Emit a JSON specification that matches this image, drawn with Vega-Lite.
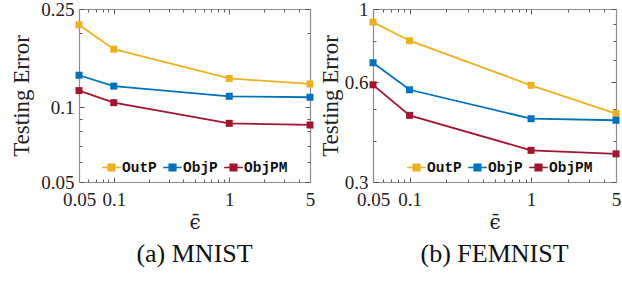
{
  "$schema": "https://vega.github.io/schema/vega-lite/v6.json",
  "padding": {"left": 10, "top": 0, "right": 0, "bottom": 0},
  "background": "white",
  "spacing": 4,
  "config": {
    "view": {"stroke": null},
    "font": "Liberation Serif",
    "axis": {
      "labelFont": "Liberation Serif", "labelFontSize": 19, "labelColor": "#222",
      "titleFont": "Liberation Serif", "titleFontSize": 23, "titleFontWeight": "normal", "titleColor": "#222",
      "domainColor": "#8c8c8c", "domainWidth": 1.2, "tickColor": "#555", "tickWidth": 1,
      "grid": false, "labelOverlap": false, "labelFlush": false
    },
    "legend": {
      "orient": "none", "direction": "horizontal", "title": null,
      "labelFont": "Liberation Mono", "labelFontSize": 14.5, "labelFontWeight": "bold", "labelColor": "#111",
      "symbolType": "M-1,0L1,0M-0.35,-0.35L0.35,-0.35L0.35,0.35L-0.35,0.35Z",
      "symbolSize": 350, "symbolStrokeWidth": 1.6, "labelOffset": 0, "columnPadding": 2
    }
  },
  "datasets": {
    "mnist": [
      {"method": "OutP", "eps": 0.05, "err": 0.216},
      {"method": "OutP", "eps": 0.1, "err": 0.172},
      {"method": "OutP", "eps": 1, "err": 0.131},
      {"method": "OutP", "eps": 5, "err": 0.1245},
      {"method": "ObjP", "eps": 0.05, "err": 0.135},
      {"method": "ObjP", "eps": 0.1, "err": 0.122},
      {"method": "ObjP", "eps": 1, "err": 0.111},
      {"method": "ObjP", "eps": 5, "err": 0.110},
      {"method": "ObjPM", "eps": 0.05, "err": 0.117},
      {"method": "ObjPM", "eps": 0.1, "err": 0.1046},
      {"method": "ObjPM", "eps": 1, "err": 0.0863},
      {"method": "ObjPM", "eps": 5, "err": 0.085}
    ],
    "femnist": [
      {"method": "OutP", "eps": 0.05, "err": 0.913},
      {"method": "OutP", "eps": 0.1, "err": 0.802},
      {"method": "OutP", "eps": 1, "err": 0.588},
      {"method": "OutP", "eps": 5, "err": 0.483},
      {"method": "ObjP", "eps": 0.05, "err": 0.688},
      {"method": "ObjP", "eps": 0.1, "err": 0.570},
      {"method": "ObjP", "eps": 1, "err": 0.466},
      {"method": "ObjP", "eps": 5, "err": 0.461},
      {"method": "ObjPM", "eps": 0.05, "err": 0.590},
      {"method": "ObjPM", "eps": 0.1, "err": 0.477},
      {"method": "ObjPM", "eps": 1, "err": 0.374},
      {"method": "ObjPM", "eps": 5, "err": 0.365}
    ]
  },
  "hconcat": [
    {
      "width": 231, "height": 173,
      "data": {"name": "mnist"},
      "title": {"text": "(a) MNIST", "orient": "bottom", "font": "Liberation Serif", "fontSize": 26, "fontWeight": "normal", "color": "#111", "offset": 9},
      "layer": [
        {
          "mark": {"type": "line", "strokeWidth": 1.8, "point": {"shape": "square", "filled": true, "size": 49, "opacity": 1}},
          "encoding": {
            "x": {"field": "eps", "type": "quantitative", "scale": {"type": "log", "domain": [0.05, 5]},
              "axis": {"orient": "bottom", "title": "ϵ̄", "titleFont": "DejaVu Serif", "titleFontSize": 20, "titlePadding": 1,
                "values": [0.05, 0.06, 0.07, 0.08, 0.09, 0.1, 0.2, 0.3, 0.4, 0.5, 0.6, 0.7, 0.8, 0.9, 1, 2, 3, 4, 5],
                "labelExpr": "indexof([0.05, 0.1, 1, 5], datum.value) >= 0 ? format(datum.value, '~g') : ''",
                "tickSize": {"condition": {"test": "indexof([0.05, 0.1, 1, 5], datum.value) >= 0", "value": -5}, "value": -3},
                "labelPadding": 13}},
            "y": {"field": "err", "type": "quantitative", "scale": {"type": "log", "domain": [0.05, 0.25]},
              "axis": {"orient": "left", "title": "Testing Error", "titlePadding": 7,
                "values": [0.05, 0.06, 0.07, 0.08, 0.09, 0.1, 0.2, 0.25],
                "labelExpr": "indexof([0.05, 0.1, 0.25], datum.value) >= 0 ? format(datum.value, '~g') : ''",
                "tickSize": {"condition": {"test": "indexof([0.05, 0.1, 0.25], datum.value) >= 0", "value": -5}, "value": -3},
                "labelPadding": 10}},
            "color": {"field": "method", "type": "nominal",
              "scale": {"domain": ["OutP", "ObjP", "ObjPM"], "range": ["#EDB120", "#0072BD", "#A2142F"]},
              "legend": {"legendX": 22, "legendY": 148,
                "encode": {"symbols": {"update": {"fill": {"scale": "color", "field": "value"}, "stroke": {"scale": "color", "field": "value"}, "opacity": {"value": 1}}}}}}
          }
        },
        {
          "mark": {"type": "point", "opacity": 0},
          "encoding": {
            "x": {"field": "eps", "type": "quantitative", "scale": {"type": "log", "domain": [0.05, 5]},
              "axis": {"orient": "top", "title": null, "labels": false,
                "values": [0.05, 0.06, 0.07, 0.08, 0.09, 0.1, 0.2, 0.3, 0.4, 0.5, 0.6, 0.7, 0.8, 0.9, 1, 2, 3, 4, 5],
                "tickSize": {"condition": {"test": "indexof([0.05, 0.1, 1, 5], datum.value) >= 0", "value": -5}, "value": -3}}},
            "y": {"field": "err", "type": "quantitative", "scale": {"type": "log", "domain": [0.05, 0.25]},
              "axis": {"orient": "right", "title": null, "labels": false, "labelPadding": 0,
                "values": [0.05, 0.06, 0.07, 0.08, 0.09, 0.1, 0.2, 0.25],
                "tickSize": {"condition": {"test": "indexof([0.05, 0.1, 0.25], datum.value) >= 0", "value": -5}, "value": -3}}}
          }
        }
      ],
      "resolve": {"axis": {"x": "independent", "y": "independent"}}
    },
    {
      "width": 243, "height": 173,
      "data": {"name": "femnist"},
      "title": {"text": "(b) FEMNIST", "orient": "bottom", "font": "Liberation Serif", "fontSize": 26, "fontWeight": "normal", "color": "#111", "offset": 9},
      "layer": [
        {
          "mark": {"type": "line", "strokeWidth": 1.8, "point": {"shape": "square", "filled": true, "size": 49, "opacity": 1}},
          "encoding": {
            "x": {"field": "eps", "type": "quantitative", "scale": {"type": "log", "domain": [0.05, 5]},
              "axis": {"orient": "bottom", "title": "ϵ̄", "titleFont": "DejaVu Serif", "titleFontSize": 20, "titlePadding": 1,
                "values": [0.05, 0.06, 0.07, 0.08, 0.09, 0.1, 0.2, 0.3, 0.4, 0.5, 0.6, 0.7, 0.8, 0.9, 1, 2, 3, 4, 5],
                "labelExpr": "indexof([0.05, 0.1, 1, 5], datum.value) >= 0 ? format(datum.value, '~g') : ''",
                "tickSize": {"condition": {"test": "indexof([0.05, 0.1, 1, 5], datum.value) >= 0", "value": -5}, "value": -3},
                "labelPadding": 13}},
            "y": {"field": "err", "type": "quantitative", "scale": {"type": "log", "domain": [0.3, 1]},
              "axis": {"orient": "left", "title": "Testing Error", "titlePadding": 2,
                "values": [0.3, 0.4, 0.5, 0.6, 0.7, 0.8, 0.9, 1],
                "labelExpr": "indexof([0.3, 0.6, 1], datum.value) >= 0 ? format(datum.value, '~g') : ''",
                "tickSize": {"condition": {"test": "indexof([0.3, 0.6, 1], datum.value) >= 0", "value": -5}, "value": -3},
                "labelPadding": 10}},
            "color": {"field": "method", "type": "nominal",
              "scale": {"domain": ["OutP", "ObjP", "ObjPM"], "range": ["#EDB120", "#0072BD", "#A2142F"]},
              "legend": {"legendX": 33, "legendY": 148,
                "encode": {"symbols": {"update": {"fill": {"scale": "color", "field": "value"}, "stroke": {"scale": "color", "field": "value"}, "opacity": {"value": 1}}}}}}
          }
        },
        {
          "mark": {"type": "point", "opacity": 0},
          "encoding": {
            "x": {"field": "eps", "type": "quantitative", "scale": {"type": "log", "domain": [0.05, 5]},
              "axis": {"orient": "top", "title": null, "labels": false,
                "values": [0.05, 0.06, 0.07, 0.08, 0.09, 0.1, 0.2, 0.3, 0.4, 0.5, 0.6, 0.7, 0.8, 0.9, 1, 2, 3, 4, 5],
                "tickSize": {"condition": {"test": "indexof([0.05, 0.1, 1, 5], datum.value) >= 0", "value": -5}, "value": -3}}},
            "y": {"field": "err", "type": "quantitative", "scale": {"type": "log", "domain": [0.3, 1]},
              "axis": {"orient": "right", "title": null, "labels": false, "labelPadding": 0,
                "values": [0.3, 0.4, 0.5, 0.6, 0.7, 0.8, 0.9, 1],
                "tickSize": {"condition": {"test": "indexof([0.3, 0.6, 1], datum.value) >= 0", "value": -5}, "value": -3}}}
          }
        }
      ],
      "resolve": {"axis": {"x": "independent", "y": "independent"}}
    }
  ],
  "resolve": {"scale": {"color": "independent"}, "legend": {"color": "independent"}}
}
